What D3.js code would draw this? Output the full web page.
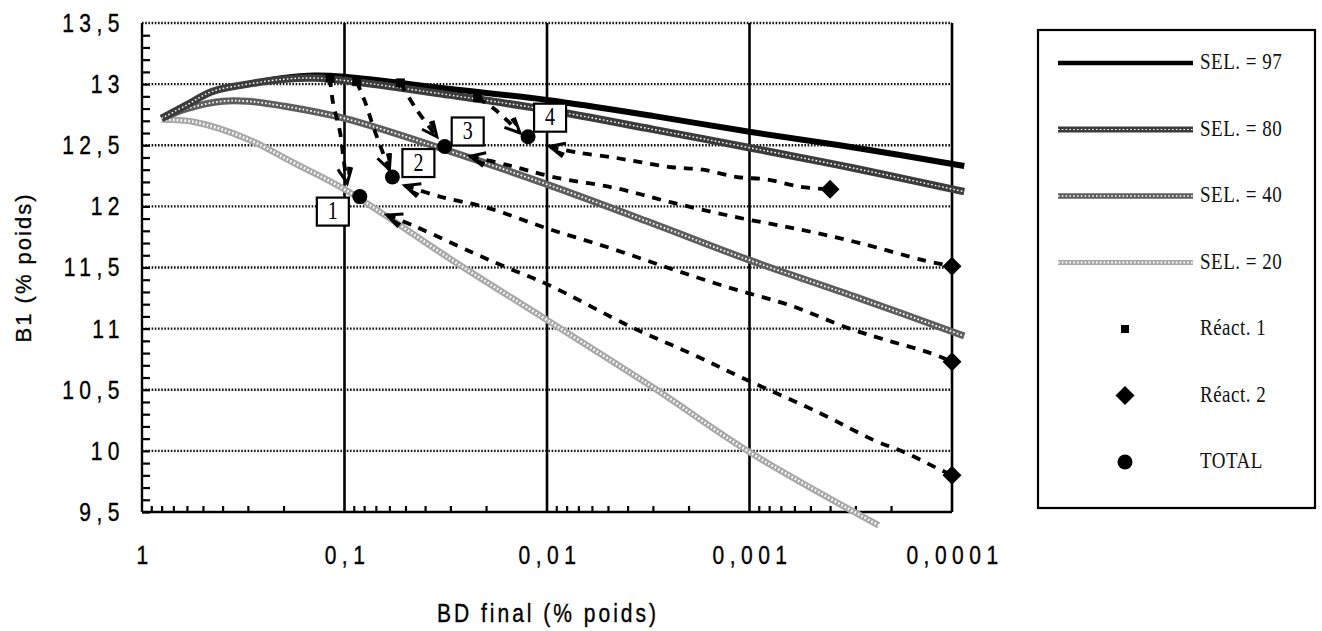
<!DOCTYPE html>
<html>
<head>
<meta charset="utf-8">
<script src="https://cdn.jsdelivr.net/npm/d3@7"></script>
<style>
  body { margin: 0; background: #fff; }
  svg { display: block; }
</style>
</head>
<body>
<div id="chart"></div>
<script>
// SEL curves (BD final, B1)
const sel97BD = [0.8, 0.6, 0.45, 0.3, 0.2, 0.14, 0.1, 0.03, 0.01, 0.003, 0.001, 0.0003, 0.000087];
const sel97B1 = [12.72, 12.83, 12.94, 13.0, 13.05, 13.07, 13.06, 12.96, 12.87, 12.74, 12.61, 12.48, 12.33];
const sel80BD = [0.8, 0.6, 0.45, 0.3, 0.2, 0.14, 0.1, 0.03, 0.01, 0.003, 0.001, 0.0003, 0.000087];
const sel80B1 = [12.72, 12.83, 12.94, 13.0, 13.04, 13.05, 13.03, 12.91, 12.79, 12.63, 12.48, 12.31, 12.12];
const sel40BD = [0.8, 0.6, 0.4, 0.3, 0.2, 0.1, 0.03, 0.01, 0.003, 0.001, 0.0003, 0.000087];
const sel40B1 = [12.72, 12.8, 12.86, 12.86, 12.82, 12.72, 12.45, 12.18, 11.86, 11.56, 11.26, 10.94];
const sel20BD = [0.8, 0.55, 0.3, 0.18, 0.1, 0.03, 0.01, 0.003, 0.001, 0.00023];
const sel20B1 = [12.71, 12.69, 12.55, 12.36, 12.14, 11.57, 11.07, 10.52, 9.99, 9.39];

// TOTAL points and their labels
const totalBD = [0.084, 0.058, 0.032, 0.0124];
const totalB1 = [12.08, 12.24, 12.49, 12.57];
const totalLabels = ["1", "2", "3", "4"];

// Réact. 1 squares and the dashed arrows going down to the totals
const r1BD = [0.118, 0.087, 0.053, 0.022];
const r1B1 = [13.05, 13.02, 13.01, 12.89];
const r1PathBD = [
  [0.118, 0.114, 0.105, 0.101, 0.097],
  [0.087, 0.079, 0.071, 0.06],
  [0.053, 0.044, 0.035],
  [0.022, 0.018, 0.0136]
];
const r1PathB1 = [
  [13.05, 12.85, 12.6, 12.38, 12.19],
  [13.02, 12.85, 12.62, 12.3],
  [13.01, 12.79, 12.57],
  [12.89, 12.79, 12.6]
];

// Réact. 2 diamonds and the dashed arrows (arrow tip first)
const r2BD = [0.0004, 0.0001, 0.0001, 0.0001];
const r2B1 = [12.14, 11.51, 10.73, 9.8];
const r2PathBD = [
  [0.0097, 0.0071, 0.0047, 0.0034, 0.0024, 0.0017, 0.00115, 0.00082, 0.00056, 0.0004],
  [0.024, 0.0158, 0.0093, 0.0046, 0.0024, 0.00115, 0.00056, 0.000285, 0.000139, 0.0001],
  [0.0503, 0.0338, 0.0198, 0.01, 0.0049, 0.00255, 0.00129, 0.00063, 0.00032, 0.000195, 0.000133, 0.0001],
  [0.0617, 0.0439, 0.0232, 0.0158, 0.0099, 0.0038, 0.00197, 0.00103, 0.00045, 0.000245, 0.000167, 0.000119, 0.0001]
];
const r2PathB1 = [
  [12.49, 12.44, 12.4, 12.36, 12.32, 12.3, 12.24, 12.22, 12.16, 12.14],
  [12.41, 12.34, 12.24, 12.15, 12.03, 11.91, 11.81, 11.7, 11.56, 11.51],
  [12.17, 12.08, 11.99, 11.82, 11.66, 11.5, 11.34, 11.19, 11.0, 10.89, 10.81, 10.73],
  [11.93, 11.83, 11.62, 11.5, 11.36, 11.01, 10.8, 10.58, 10.31, 10.09, 9.98, 9.86, 9.8]
];

const xTicks = [1, 0.1, 0.01, 0.001, 0.0001];
const yTicks = [9.5, 10, 10.5, 11, 11.5, 12, 12.5, 13, 13.5];
const legendNames = ["SEL. = 97", "SEL. = 80", "SEL. = 40", "SEL. = 20", "Réact. 1", "Réact. 2", "TOTAL"];

const W = 1322, H = 631;
const plotLeft = 142, plotRight = 952, plotTop = 23, plotBottom = 512;
const stretch = 1.25;

const svg = d3.select("#chart").append("svg").attr("width", W).attr("height", H);

const defs = svg.append("defs");
defs.append("marker")
  .attr("id", "arrow")
  .attr("markerUnits", "userSpaceOnUse")
  .attr("viewBox", "-20 -10 24 20")
  .attr("refX", 0).attr("refY", 0)
  .attr("markerWidth", 24).attr("markerHeight", 20)
  .attr("orient", "auto-start-reverse")
  .append("path")
  .attr("d", "M-15,-7 L0,0 L-15,7 M-8,-3 L-16,-4")
  .attr("fill", "none").attr("stroke", "#000").attr("stroke-width", 3);

const x = d3.scaleLog().domain([1, 0.0001]).range([plotLeft, plotRight]);
const y = d3.scaleLinear().domain([9.5, 13.5]).range([plotBottom, plotTop]);
const comma = (d) => String(d).replace(".", ",");

// horizontal dotted grid
svg.append("g").selectAll("line")
  .data(yTicks.filter((d) => d > 9.5))
  .join("line")
  .attr("x1", plotLeft).attr("x2", plotRight)
  .attr("y1", (d) => y(d)).attr("y2", (d) => y(d))
  .attr("stroke", "#111").attr("stroke-width", 2.3)
  .attr("stroke-dasharray", "1.6,1.6");

// decade lines
svg.append("g").selectAll("line")
  .data(xTicks)
  .join("line")
  .attr("x1", (d) => x(d)).attr("x2", (d) => x(d))
  .attr("y1", plotTop).attr("y2", plotBottom)
  .attr("stroke", "#000").attr("stroke-width", (d) => (d === 1 ? 2.4 : 2.6));

svg.append("line")
  .attr("x1", plotLeft).attr("x2", plotRight).attr("y1", plotBottom).attr("y2", plotBottom)
  .attr("stroke", "#000").attr("stroke-width", 2.4);

// minor ticks
const yMinor = d3.range(95, 135).map((d) => d / 10);
svg.append("g")
  .attr("transform", `translate(${plotLeft},0)`)
  .call(d3.axisLeft(y).tickValues(yMinor).tickSizeInner(-8).tickSizeOuter(0).tickFormat(""))
  .call((g) => g.select(".domain").remove())
  .call((g) => g.selectAll("line").attr("stroke", "#000").attr("stroke-width", 2.2));

const xMinor = [];
[1, 0.1, 0.01, 0.001].forEach((p) => {
  for (let k = 2; k <= 9; k++) xMinor.push((p * k) / 10);
});
svg.append("g")
  .attr("transform", `translate(0,${plotBottom})`)
  .call(d3.axisBottom(x).tickValues(xMinor).tickSizeInner(-6).tickSizeOuter(0).tickFormat(""))
  .call((g) => g.select(".domain").remove())
  .call((g) => g.selectAll("line").attr("stroke", "#000").attr("stroke-width", 2.2));

// tick labels
const labelFont = "'Liberation Sans', Arial, sans-serif";
svg.append("g")
  .attr("transform", `translate(${plotLeft},0)`)
  .call(d3.axisLeft(y).tickValues(yTicks).tickSize(0).tickPadding(17).tickFormat(comma))
  .call((g) => g.select(".domain").remove())
  .call((g) => g.selectAll("text")
    .attr("font-family", labelFont).attr("font-size", 21)
    .attr("letter-spacing", 5.5).attr("fill", "#000")
    .attr("stroke", "#000").attr("stroke-width", 0.3)
    .attr("transform", `scale(1,${stretch})`));

svg.append("g")
  .attr("transform", `translate(0,${plotBottom})`)
  .call(d3.axisBottom(x).tickValues(xTicks).tickSize(0).tickPadding(27).tickFormat(comma))
  .call((g) => g.select(".domain").remove())
  .call((g) => g.selectAll("text")
    .attr("font-family", labelFont).attr("font-size", 21)
    .attr("letter-spacing", 5.5).attr("fill", "#000")
    .attr("stroke", "#000").attr("stroke-width", 0.3)
    .attr("dx", 2.5)
    .attr("transform", `scale(1,${stretch})`));

svg.append("text")
  .attr("transform", `translate(548,622) scale(1,${stretch})`)
  .attr("text-anchor", "middle")
  .attr("font-family", labelFont).attr("font-size", 21)
  .attr("letter-spacing", 3).attr("fill", "#000")
  .attr("stroke", "#000").attr("stroke-width", 0.3)
  .text("BD final (% poids)");

svg.append("text")
  .attr("transform", `translate(31,${(plotTop + plotBottom) / 2}) rotate(-90)`)
  .attr("text-anchor", "middle")
  .attr("font-family", labelFont).attr("font-size", 22)
  .attr("letter-spacing", 2).attr("fill", "#000")
  .attr("stroke", "#000").attr("stroke-width", 0.3)
  .text("B1 (% poids)");

// curves
const zip = (xs, ys) => xs.map((v, i) => [v, ys[i]]);
const line = d3.line().x((d) => x(d[0])).y((d) => y(d[1])).curve(d3.curveCatmullRom);

const curveStyles = [
  { base: "#a8a8a8", w: 6.5, dot: "#fff", dw: 2.6 },
  { base: "#5e5e5e", w: 7, dot: "#fff", dw: 1.8 },
  { base: "#000", w: 6, dot: null, dw: 0 },
  { base: "#3c3c3c", w: 7.5, dot: "#fff", dw: 1.4 }
];
const curves = [zip(sel20BD, sel20B1), zip(sel40BD, sel40B1), zip(sel97BD, sel97B1), zip(sel80BD, sel80B1)];

const cg = svg.append("g");
curves.forEach((c, i) => {
  const s = curveStyles[i];
  cg.append("path").attr("d", line(c)).attr("fill", "none")
    .attr("stroke", s.base).attr("stroke-width", s.w).attr("stroke-linecap", "butt");
  if (s.dot) {
    cg.append("path").attr("d", line(c)).attr("fill", "none")
      .attr("stroke", s.dot).attr("stroke-width", s.dw).attr("stroke-dasharray", "1.6,2.2");
  }
});

// dashed arrows
const dg = svg.append("g");
r2PathBD.forEach((p, i) => {
  dg.append("path").attr("d", line(zip(p, r2PathB1[i])))
    .attr("fill", "none").attr("stroke", "#000").attr("stroke-width", 3.8)
    .attr("stroke-dasharray", "9,8").attr("marker-start", "url(#arrow)");
});
r1PathBD.forEach((p, i) => {
  dg.append("path").attr("d", line(zip(p, r1PathB1[i])))
    .attr("fill", "none").attr("stroke", "#000").attr("stroke-width", 3.8)
    .attr("stroke-dasharray", "9,8").attr("marker-end", "url(#arrow)");
});

// label boxes
const labelOffsets = [[-27, 15], [26, -14], [23, -15], [22, -19]];
const serif = "'Liberation Serif', 'Times New Roman', serif";
const boxes = svg.append("g").selectAll("g")
  .data(totalLabels)
  .join("g")
  .attr("transform", (d, i) => `translate(${x(totalBD[i]) + labelOffsets[i][0]},${y(totalB1[i]) + labelOffsets[i][1]})`);
boxes.append("rect")
  .attr("x", -16).attr("y", -14).attr("width", 32).attr("height", 28)
  .attr("fill", "#fff").attr("stroke", "#000").attr("stroke-width", 2.2);
boxes.append("text")
  .attr("text-anchor", "middle")
  .attr("transform", `scale(1,${stretch})`)
  .attr("y", 6)
  .attr("font-family", serif).attr("font-size", 20).attr("fill", "#000")
  .text((d) => d);

// markers
const diamond = d3.symbol().type(d3.symbolDiamond2).size(230);
svg.append("g").selectAll("path")
  .data(r2BD)
  .join("path")
  .attr("transform", (d, i) => `translate(${x(d)},${y(r2B1[i])})`)
  .attr("d", diamond).attr("fill", "#000");
svg.append("g").selectAll("rect")
  .data(r1BD)
  .join("rect")
  .attr("x", (d) => x(d) - 4.5).attr("y", (d, i) => y(r1B1[i]) - 4.5)
  .attr("width", 9).attr("height", 9).attr("fill", "#000");
svg.append("g").selectAll("circle")
  .data(totalBD)
  .join("circle")
  .attr("cx", (d) => x(d)).attr("cy", (d, i) => y(totalB1[i]))
  .attr("r", 7.5).attr("fill", "#000");

// legend
const lg = svg.append("g");
lg.append("rect")
  .attr("x", 1038).attr("y", 30).attr("width", 277).attr("height", 478)
  .attr("fill", "#fff").attr("stroke", "#000").attr("stroke-width", 2.2);
const legendStyles = [curveStyles[2], curveStyles[3], curveStyles[1], curveStyles[0]];
legendNames.forEach((name, i) => {
  const ly = 63 + i * 66.5;
  if (i < 4) {
    const s = legendStyles[i];
    lg.append("line").attr("x1", 1058).attr("x2", 1193).attr("y1", ly).attr("y2", ly)
      .attr("stroke", s.base).attr("stroke-width", s.w - 1.5);
    if (s.dot) {
      lg.append("line").attr("x1", 1058).attr("x2", 1193).attr("y1", ly).attr("y2", ly)
        .attr("stroke", s.dot).attr("stroke-width", s.dw * 0.8).attr("stroke-dasharray", "1.6,2.2");
    }
  } else if (i === 4) {
    lg.append("rect").attr("x", 1121).attr("y", ly - 4).attr("width", 8).attr("height", 8).attr("fill", "#000");
  } else if (i === 5) {
    lg.append("path").attr("transform", `translate(1125,${ly})`).attr("d", diamond).attr("fill", "#000");
  } else {
    lg.append("circle").attr("cx", 1125).attr("cy", ly).attr("r", 7.5).attr("fill", "#000");
  }
  lg.append("text")
    .attr("transform", `translate(1200,${ly + 6}) scale(1,${stretch})`)
    .attr("font-family", serif).attr("font-size", 19).attr("fill", "#111")
    .attr("letter-spacing", 0.5)
    .text(name);
});
</script>
</body>
</html>
